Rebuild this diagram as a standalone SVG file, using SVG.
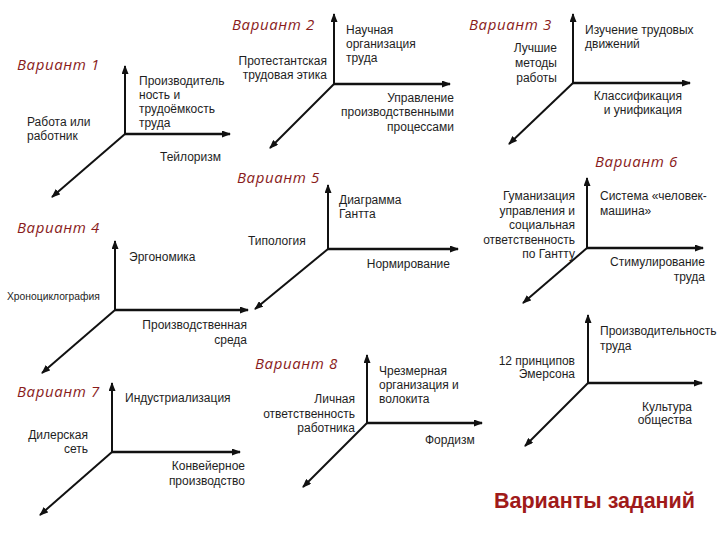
<svg xmlns="http://www.w3.org/2000/svg" width="720" height="540" viewBox="0 0 720 540">
<style>
.t{font-family:"Liberation Sans",Arial,sans-serif;font-size:12px;fill:#1e1e1e}
.e{text-anchor:end}
.v{font-family:"Open Sans","Noto Sans",sans-serif;font-style:italic;font-size:15px;fill:#8a1c1c;letter-spacing:0.6px}
.ax{stroke:#111;stroke-width:2;fill:none;marker-end:url(#ah)}
.h{stroke-width:2.6}
.ttl{font-family:"Liberation Sans",Arial,sans-serif;font-weight:bold;font-size:21.5px;fill:#a01a1a}
</style>
<defs>
<marker id="ah" markerUnits="userSpaceOnUse" markerWidth="9" markerHeight="7" refX="8" refY="3.5" orient="auto">
<path d="M0,0 L9,3.5 L0,7 z" fill="#111"/>
</marker>
</defs>
<rect width="720" height="540" fill="#fff"/>
<g id="connectors">
<path class="ax" d="M125,134 V66"/><path class="ax h" d="M125,134 H230"/><path class="ax" d="M125,134 L52,197"/>
<path class="ax" d="M334,84 V14"/><path class="ax h" d="M334,84 H450"/><path class="ax" d="M334,84 L270,148"/>
<path class="ax" d="M573,83 V14"/><path class="ax h" d="M573,83 H690"/><path class="ax" d="M573,83 L509,144"/>
<path class="ax" d="M115,310 V241"/><path class="ax h" d="M115,310 H248"/><path class="ax" d="M115,310 L42,373"/>
<path class="ax" d="M328,249 V185"/><path class="ax h" d="M328,249 H458"/><path class="ax" d="M328,249 L255,309"/>
<path class="ax" d="M587,248 V178"/><path class="ax h" d="M587,248 H703"/><path class="ax" d="M587,248 L523,303"/>
<path class="ax" d="M112,452 V383"/><path class="ax h" d="M112,452 H240"/><path class="ax" d="M112,452 L40,515"/>
<path class="ax" d="M367,423 V355"/><path class="ax h" d="M367,423 H482"/><path class="ax" d="M367,423 L303,487"/>
<path class="ax" d="M588,383 V315"/><path class="ax h" d="M588,383 H702"/><path class="ax" d="M588,383 L525,446"/>
</g>
<g id="variant1">
<text class="v" x="17" y="70">Вариант 1</text>
<text class="t" x="139" y="85">Производитель</text>
<text class="t" x="139" y="99">ность и</text>
<text class="t" x="139" y="113">трудоёмкость</text>
<text class="t" x="139" y="127">труда</text>
<text class="t" x="27" y="126">Работа или</text>
<text class="t" x="27" y="140">работник</text>
<text class="t" x="160" y="161">Тейлоризм</text>
</g>
<g id="variant2">
<text class="v" x="232" y="30">Вариант 2</text>
<text class="t e" x="327" y="65">Протестантская</text>
<text class="t e" x="327" y="79">трудовая этика</text>
<text class="t" x="346" y="34">Научная</text>
<text class="t" x="346" y="48">организация</text>
<text class="t" x="346" y="62">труда</text>
<text class="t e" x="454" y="102">Управление</text>
<text class="t e" x="454" y="116">производственными</text>
<text class="t e" x="454" y="131">процессами</text>
</g>
<g id="variant3">
<text class="v" x="469" y="30">Вариант 3</text>
<text class="t e" x="557" y="52">Лучшие</text>
<text class="t e" x="557" y="67">методы</text>
<text class="t e" x="557" y="82">работы</text>
<text class="t" x="585" y="34">Изучение трудовых</text>
<text class="t" x="585" y="48">движений</text>
<text class="t e" x="682" y="100">Классификация</text>
<text class="t e" x="682" y="114">и унификация</text>
</g>
<g id="variant5">
<text class="v" x="237" y="183">Вариант 5</text>
<text class="t" x="339" y="204">Диаграмма</text>
<text class="t" x="339" y="218">Гантта</text>
<text class="t" x="248" y="245">Типология</text>
<text class="t e" x="450" y="268">Нормирование</text>
</g>
<g id="variant6">
<text class="v" x="595" y="167">Вариант 6</text>
<text class="t e" x="575" y="200">Гуманизация</text>
<text class="t e" x="575" y="214.5">управления и</text>
<text class="t e" x="575" y="229">социальная</text>
<text class="t e" x="575" y="243.5">ответственность</text>
<text class="t e" x="575" y="258">по Гантту</text>
<text class="t" x="600" y="200">Система «человек-</text>
<text class="t" x="600" y="215">машина»</text>
<text class="t e" x="705" y="266">Стимулирование</text>
<text class="t e" x="705" y="281">труда</text>
</g>
<g id="variant4">
<text class="v" x="17" y="233">Вариант 4</text>
<text class="t" x="129" y="261">Эргономика</text>
<text class="t" x="7" y="300" style="font-size:10.3px">Хроноциклография</text>
<text class="t e" x="247" y="329">Производственная</text>
<text class="t e" x="247" y="344">среда</text>
</g>
<g id="variant7">
<text class="v" x="17" y="397">Вариант 7</text>
<text class="t" x="125" y="402">Индустриализация</text>
<text class="t e" x="88" y="439">Дилерская</text>
<text class="t e" x="88" y="453">сеть</text>
<text class="t e" x="245" y="470">Конвейерное</text>
<text class="t e" x="245" y="485">производство</text>
</g>
<g id="variant8">
<text class="v" x="255" y="369">Вариант 8</text>
<text class="t e" x="355" y="403">Личная</text>
<text class="t e" x="355" y="418">ответственность</text>
<text class="t e" x="355" y="432">работника</text>
<text class="t" x="379" y="375">Чрезмерная</text>
<text class="t" x="379" y="389">организация и</text>
<text class="t" x="379" y="403">волокита</text>
<text class="t" x="425" y="444">Фордизм</text>
</g>
<g id="set9">
<text class="t e" x="575" y="365">12 принципов</text>
<text class="t e" x="575" y="378">Эмерсона</text>
<text class="t" x="600" y="335">Производительность</text>
<text class="t" x="600" y="350">труда</text>
<text class="t e" x="692" y="411">Культура</text>
<text class="t e" x="692" y="424">общества</text>
</g>
<g id="title">
<text class="ttl" x="494" y="508">Варианты заданий</text>
</g>
</svg>
